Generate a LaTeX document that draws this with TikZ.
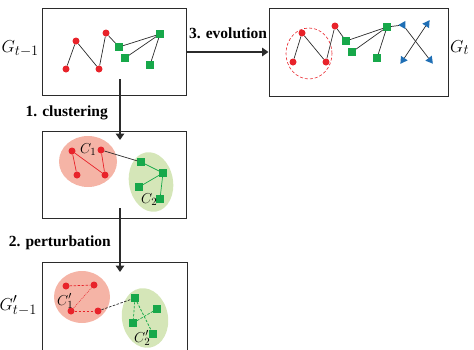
\documentclass[tikz,border=0pt]{standalone}
\usepackage{fontspec}
\setmainfont{Liberation Serif}
\usetikzlibrary{arrows.meta, shapes.geometric}

\definecolor{nodered}{HTML}{E8232A}
\definecolor{nodegreen}{HTML}{17A84A}
\definecolor{nodeblue}{HTML}{1F6FB5}
\definecolor{clred}{HTML}{F5B4A6}
\definecolor{clgreen}{HTML}{D5E6B8}
\definecolor{linegray}{HTML}{2B2B2B}

\begin{document}
\begin{tikzpicture}[
    frame/.style={draw=linegray, line width=1pt, inner sep=0pt, minimum width=144pt, minimum height=87pt},
    rnode/.style={shape=circle, fill=nodered, inner sep=0pt, minimum size=7pt},
    gnode/.style={shape=rectangle, fill=nodegreen, inner sep=0pt, minimum size=7.5pt},
    bnode/.style={shape=isosceles triangle, isosceles triangle apex angle=60, fill=nodeblue, inner sep=0pt, minimum size=7pt},
    edge/.style={draw=linegray, line width=0.7pt},
    redge/.style={draw=nodered, line width=0.7pt},
    gedge/.style={draw=nodegreen, line width=0.7pt},
    dashedge/.style={line width=0.7pt, dash pattern=on 2.5pt off 1.5pt},
    flow/.style={draw=linegray, line width=2.6pt, -{Triangle[length=6.5pt,width=8.5pt]}},
    stagelbl/.style={font=\fontsize{15.5}{18}\selectfont\bfseries, inner sep=0pt},
    glbl/.style={font=\fontsize{19}{22}\selectfont, inner sep=0pt},
    clbl/.style={font=\fontsize{15}{18}\selectfont, inner sep=0pt}
]
    \useasboundingbox (0pt,0pt) rectangle (474pt,-349pt);

    % frames
    \node at (114pt,-52pt) (F1) [frame] {};
    \node at (114pt,-174.5pt) (F2) [frame] {};
    \node at (114.5pt,-309pt) (F3) [frame, minimum width=145pt, minimum height=94pt] {};
    \node at (358.5pt,-52pt) (F4) [frame, minimum width=179pt, minimum height=88pt] {};

    % clusters
    \fill[clred] (88pt,-161.5pt) ellipse (29pt and 25.5pt);
    \fill[clgreen, rotate around={10:(151pt,-182pt)}] (151pt,-182pt) ellipse (22pt and 30pt);
    \fill[clred] (82pt,-297pt) ellipse (28pt and 26pt);
    \fill[clgreen, rotate around={10:(145pt,-318pt)}] (145pt,-318pt) ellipse (23pt and 30pt);
    \draw[nodered, line width=0.6pt, dash pattern=on 3pt off 2pt] (309pt,-53.5pt) ellipse (23pt and 25.5pt);

    % G_{t-1}
    \node at (66pt,-69pt) (A1) [rnode] {};
    \node at (76pt,-41pt) (A2) [rnode] {};
    \node at (99pt,-69pt) (A3) [rnode] {};
    \node at (106pt,-33pt) (A4) [rnode] {};
    \node at (119pt,-47pt) (B1) [gnode] {};
    \node at (125pt,-58pt) (B2) [gnode] {};
    \node at (160pt,-34pt) (B3) [gnode] {};
    \node at (150pt,-65pt) (B4) [gnode] {};

    \path[edge] (A1) -- (A2) -- (A3) -- (A4) -- (B1) -- (B3);
    \path[edge] (B2) -- (B3);
    \path[edge] (B3) -- (B4);

    % clustering
    \node at (72pt,-151pt) (C1) [rnode] {};
    \node at (77pt,-175pt) (C2) [rnode] {};
    \node at (101pt,-150pt) (C3) [rnode] {};
    \node at (105pt,-175pt) (C4) [rnode] {};
    \node at (141pt,-162pt) (D1) [gnode] {};
    \node at (163pt,-173pt) (D2) [gnode] {};
    \node at (139pt,-187pt) (D3) [gnode] {};
    \node at (160pt,-199pt) (D4) [gnode] {};

    \path[redge] (C1) -- (C2);
    \path[redge] (C1) -- (C4);
    \path[redge] (C3) -- (C4);
    \path[edge] (C3) -- (D1);
    \path[gedge] (D1) -- (D2);
    \path[gedge] (D2) -- (D3);
    \path[gedge] (D2) -- (D4);

    % perturbation
    \node at (66pt,-286pt) (E1) [rnode] {};
    \node at (94pt,-285pt) (E2) [rnode] {};
    \node at (71pt,-311pt) (E3) [rnode] {};
    \node at (98pt,-311pt) (E4) [rnode] {};
    \node at (135pt,-298pt) (H1) [gnode] {};
    \node at (157pt,-309pt) (H2) [gnode] {};
    \node at (133pt,-323pt) (H3) [gnode] {};
    \node at (153pt,-334pt) (H4) [gnode] {};

    \path[draw=nodered, dashedge] (E1) -- (E2);
    \path[draw=nodered, line width=0.5pt, dash pattern=on 1pt off 1pt] (E2) -- (E3);
    \path[draw=nodered, dashedge] (E3) -- (E4);
    \path[draw=linegray, dashedge] (E4) -- (H1);
    \path[draw=nodegreen, dashedge] (H1) -- (H3);
    \path[draw=nodegreen, dashedge] (H1) -- (H4);
    \path[draw=nodegreen, dashedge] (H2) -- (H3);

    % G_t
    \node at (293pt,-62pt) (P1) [rnode] {};
    \node at (302pt,-33pt) (P2) [rnode] {};
    \node at (326pt,-62pt) (P3) [rnode] {};
    \node at (335pt,-26pt) (P4) [rnode] {};
    \node at (346pt,-41pt) (Q1) [gnode] {};
    \node at (352pt,-52pt) (Q2) [gnode] {};
    \node at (387pt,-27pt) (Q3) [gnode] {};
    \node at (377pt,-58pt) (Q4) [gnode] {};
    \node at (403pt,-25pt) (T1) [bnode, rotate=180] {};
    \node at (427pt,-24pt) (T2) [bnode, rotate=56] {};
    \node at (403pt,-60pt) (T3) [bnode, rotate=236] {};
    \node at (430pt,-60pt) (T4) [bnode, rotate=-52] {};

    \path[edge] (P1) -- (P2) -- (P3) -- (P4) -- (Q1) -- (Q3);
    \path[edge] (Q2) -- (Q3);
    \path[edge] (Q3) -- (Q4);
    \path[edge] (Q3) -- (T1);
    \path[edge] (T1) -- (T4);
    \path[edge] (T2) -- (T3);

    % steps
    \coordinate (S1a) at (120pt,-79pt);
    \coordinate (S1b) at (120pt,-140pt);
    \coordinate (S2a) at (120pt,-208pt);
    \coordinate (S2b) at (120pt,-272pt);
    \draw[flow] (S1a) -- (S1b);
    \draw[flow] (S2a) -- (S2b);
    \draw[flow] (F1.east) -- (F4.west);

    \node at (108pt,-116pt) (L1) [stagelbl, anchor=base east] {1. clustering};
    \node at (111pt,-246pt) (L2) [stagelbl, anchor=base east] {2. perturbation};
    \node at (228pt,-38pt) (L3) [stagelbl, anchor=base] {3. evolution};

    % graph labels
    \node at (39pt,-52pt) (Gprev) [glbl, anchor=base east] {$G_{t-1}$};
    \node at (37pt,-310pt) (Gpert) [glbl, anchor=base east] {$G'_{t-1}$};
    \node at (450pt,-52pt) (Gnext) [glbl, anchor=base west] {$G_t$};
    \node at (80pt,-153pt) (K1) [clbl, anchor=base west] {$C_1$};
    \node at (141pt,-203pt) (K2) [clbl, anchor=base west] {$C_2$};
    \node at (57pt,-305pt) (K3) [clbl, anchor=base west] {$C'_1$};
    \node at (134pt,-342pt) (K4) [clbl, anchor=base west] {$C'_2$};
\end{tikzpicture}
\end{document}
